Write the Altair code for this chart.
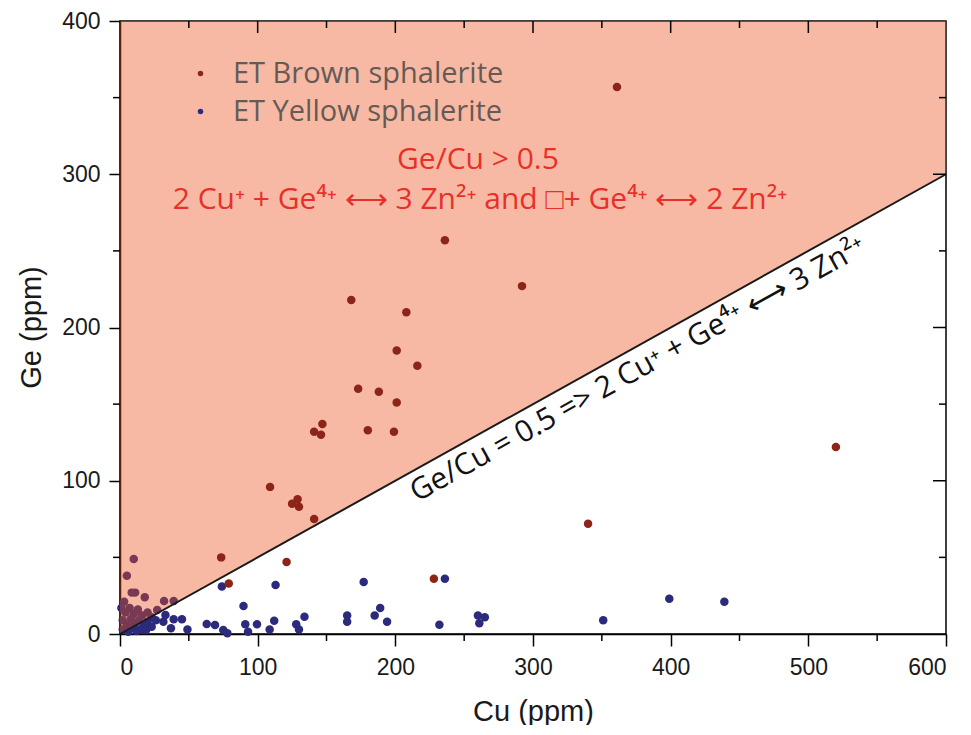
import altair as alt
import pandas as pd

# ---------------- data ----------------
brown_cu = [361, 236, 292, 168, 208, 201, 216, 173, 188, 201, 147, 141, 146, 180, 199,
            109, 129, 125, 130, 141, 121, 73.5, 79, 228, 340, 520]
brown_ge = [357, 257, 227, 218, 210, 185, 175, 160, 158, 151, 137, 132, 130, 133, 132,
            96, 88, 85, 83, 75, 47, 50, 33, 36, 72, 122]

yellow_cu = [10, 5, 8.5, 11, 18, 32, 39, 3, 1, 4, 7, 10, 13, 16, 20, 23, 27, 2, 5, 8,
             11, 14, 17, 20, 2, 6, 9, 12, 15, 19, 23, 26, 33, 39, 45, 31.5, 37, 49,
             74, 89.7, 63, 69, 75, 78, 91, 99.5, 93, 112, 108.7, 113, 128, 134, 130,
             177, 165, 165, 185, 189, 194, 236, 232, 260, 265, 261, 351, 399, 439]
yellow_ge = [49, 38, 27, 27, 24, 21.5, 21.5, 21, 17, 14, 17, 13, 16, 12, 14, 11, 15.7, 9, 6, 10,
             7, 9, 5, 8, 3, 1.5, 4, 2, 3, 2.6, 4.8, 9, 12.4, 9.6, 9.6, 8, 3.7, 3,
             31, 18.3, 6.5, 5.9, 2.6, 0.5, 6.3, 6.3, 1.5, 8.7, 3, 32, 6.3, 11.3, 3,
             34, 12, 8, 12, 17, 8, 36, 6, 12, 11, 7, 9, 23, 21]

series = ["ET Brown sphalerite", "ET Yellow sphalerite"]
series_colors = ["#8c2418", "#2c2a7c"]

major_x = [0, 100, 200, 300, 400, 500, 600]
minor_x = [50, 150, 250, 350, 450, 550]
major_y = [0, 100, 200, 300, 400]
minor_y = [50, 150, 250, 350]

# boundary Ge/Cu = 0.5
line_cu = [0, 600]
line_ge = [0, 300]
top_ge = [400, 400]

title_red_1 = "Ge/Cu > 0.5"
title_red_2 = "2 Cu\u207a + Ge\u2074\u207a \u27f7 3 Zn\u00b2\u207a and \u25a1+ Ge\u2074\u207a \u27f7 2 Zn\u00b2\u207a"
line_label = "Ge/Cu = 0.5 => 2 Cu\u207a + Ge\u2074\u207a \u27f7 3 Zn\u00b2\u207a"

W, H = 826, 613
TXT_FONT = "Open Sans"
AX_FONT = "Liberation Sans"

# ---------------- frames ----------------
df_b = pd.DataFrame({"Cu": brown_cu, "Ge": brown_ge, "type": series[0]})
df_y = pd.DataFrame({"Cu": yellow_cu, "Ge": yellow_ge, "type": series[1]})
df_line = pd.DataFrame({"Cu": line_cu, "Ge": line_ge, "top": top_ge})

xs = alt.Scale(domain=[0, 600], nice=False, zero=False)
ys = alt.Scale(domain=[0, 400], nice=False, zero=False)
cs = alt.Scale(domain=series, range=series_colors)

x_axis = alt.Axis(values=major_x, title="Cu (ppm)", grid=False,
                  labelFont=AX_FONT, labelFontSize=23, labelColor="#1a1a1a",
                  labelPadding=10, tickSize=12, tickWidth=1.5, tickColor="black",
                  domainColor="black", domainWidth=1.5,
                  titleFont=AX_FONT, titleFontSize=29, titleFontWeight="normal",
                  titleColor="#1a1a1a", titleX=413, titleY=86, titleBaseline="alphabetic",
                  titleAlign="center")
y_axis = alt.Axis(values=major_y, title="Ge (ppm)", grid=False,
                  labelFont=AX_FONT, labelFontSize=23, labelColor="#1a1a1a",
                  labelPadding=9, tickSize=11, tickWidth=1.5, tickColor="black",
                  domainColor="black", domainWidth=1.5,
                  titleFont=AX_FONT, titleFontSize=29, titleFontWeight="normal",
                  titleColor="#1a1a1a", titleX=-89, titleY=306, titleAngle=270,
                  titleBaseline="middle", titleAlign="center")


def X(field):
    return alt.X(field, scale=xs, axis=x_axis)


def Y(field):
    return alt.Y(field, scale=ys, axis=y_axis)


legend = alt.Legend(orient="none", legendX=66, legendY=38, title=None,
                    labelFont=TXT_FONT, labelFontSize=29, labelColor="#665a57",
                    labelLimit=0,
                    symbolType="circle", symbolSize=30, symbolStrokeWidth=0,
                    labelOffset=18, rowPadding=8, padding=0)

yellow_pts = alt.Chart(df_y).mark_circle(size=72, opacity=1).encode(
    x=X("Cu:Q"), y=Y("Ge:Q"),
    color=alt.Color("type:N", scale=cs, legend=legend),
)

region = alt.Chart(df_line).mark_area(color="#eb5019", opacity=0.4).encode(
    x=X("Cu:Q"), y=Y("Ge:Q"), y2="top:Q",
)

bound = alt.Chart(df_line).mark_line(color="#1a1a1a", strokeWidth=2).encode(
    x=X("Cu:Q"), y=Y("Ge:Q"),
)

brown_pts = alt.Chart(df_b).mark_circle(size=72, opacity=1).encode(
    x=X("Cu:Q"), y=Y("Ge:Q"),
    color=alt.Color("type:N", scale=cs, legend=legend),
)

tick_style = dict(color="black", strokeWidth=1.5)


def xticks(vals, y0, y1):
    return alt.Chart(pd.DataFrame({"Cu": vals})).mark_rule(**tick_style).encode(
        x=X("Cu:Q"), y=alt.value(y0), y2=alt.value(y1))


def yticks(vals, x0, x1):
    return alt.Chart(pd.DataFrame({"Ge": vals})).mark_rule(**tick_style).encode(
        y=Y("Ge:Q"), x=alt.value(x0), x2=alt.value(x1))


ticks = [
    xticks(minor_x, H, H + 7),          # bottom minor (outward)
    xticks(major_x[1:-1], 0, 12),       # top major (inward)
    xticks(minor_x, 0, 7),              # top minor (inward)
    yticks(minor_y, -7, 0),             # left minor (outward)
    yticks(major_y[1:-1], W - 13, W),   # right major (inward)
    yticks(minor_y, W - 7, W),          # right minor (inward)
]

df_red = pd.DataFrame({"Cu": [260, 261.5], "Ge": [309.3, 283.2],
                       "t": [title_red_1, title_red_2]})
red_text = alt.Chart(df_red).mark_text(font=TXT_FONT, fontSize=30, color="#e8302a",
                                       align="center", baseline="middle").encode(
    x=X("Cu:Q"), y=Y("Ge:Q"), text="t:N",
)

df_lab = pd.DataFrame({"Cu": [379.5], "Ge": [167.5], "t": [line_label]})
line_text = alt.Chart(df_lab).mark_text(font=TXT_FONT, fontSize=30, color="#111111",
                                        align="center", baseline="alphabetic",
                                        angle=331).encode(
    x=X("Cu:Q"), y=Y("Ge:Q"), text="t:N",
)

chart = alt.layer(yellow_pts, region, bound, brown_pts, *ticks, red_text, line_text).properties(
    width=W, height=H,
    padding={"left": 112, "top": 13, "right": 15, "bottom": 91},
    autosize=alt.AutoSizeParams(type="none"),
    background="white",
).configure_view(stroke="black", strokeWidth=1.5)

chart.save("out.html", embed_options={"renderer": "svg", "actions": False})
